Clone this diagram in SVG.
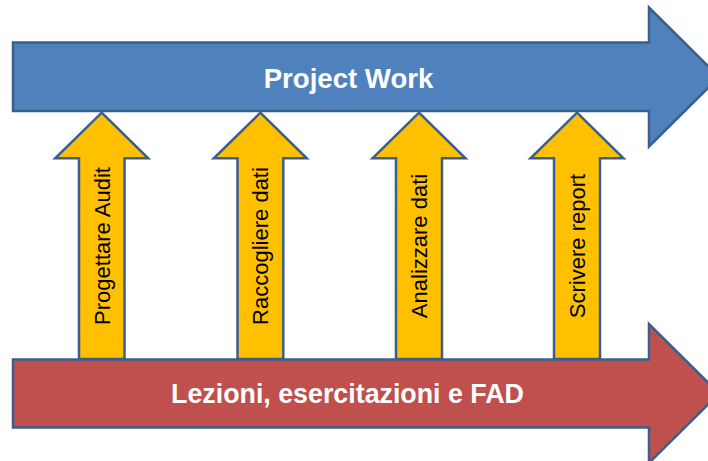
<svg xmlns="http://www.w3.org/2000/svg" width="708" height="461" viewBox="0 0 708 461">
  <style>
    .big { stroke: #3A5F8D; stroke-width: 2.5; stroke-linejoin: miter; }
    .blue { fill: #4F81BD; }
    .red { fill: #C0504D; }
    .step { fill: #FFC000; stroke: #3A5F8D; stroke-width: 2.5; stroke-linejoin: miter; }
    .title { font-family: "Liberation Sans", Arial, sans-serif; font-weight: bold; fill: #FFFFFF; text-anchor: middle; }
    .label { font-family: "Liberation Sans", Arial, sans-serif; font-size: 22px; fill: #000000; text-anchor: middle; }
  </style>
  <rect x="0" y="0" width="708" height="461" fill="#FFFFFF"/>

  <g id="project-work">
    <polygon class="big blue" points="13,42.5 649,42.5 649,7.5 719,77 649,146.5 649,111 13,111"/>
    <text class="title" x="348.5" y="88.3" font-size="27.6">Project Work</text>
  </g>

  <g id="progettare-audit">
    <polygon class="step" points="101.7,112.7 148.2,158.3 124.5,158.3 124.5,359 79,359 79,158.3 55.2,158.3"/>
    <text class="label" transform="translate(109.5,246) rotate(-90)">Progettare Audit</text>
  </g>

  <g id="raccogliere-dati">
    <polygon class="step" points="260.3,112.7 306.8,158.3 283.3,158.3 283.3,359 237.5,359 237.5,158.3 213.8,158.3"/>
    <text class="label" transform="translate(268.3,246) rotate(-90)">Raccogliere dati</text>
  </g>

  <g id="analizzare-dati">
    <polygon class="step" points="419,112.7 465.5,158.3 442,158.3 442,359 396,359 396,158.3 372.5,158.3"/>
    <text class="label" transform="translate(427,246) rotate(-90)">Analizzare dati</text>
  </g>

  <g id="scrivere-report">
    <polygon class="step" points="577,112.7 623.5,158.3 600,158.3 600,359 554,359 554,158.3 530.5,158.3"/>
    <text class="label" transform="translate(585,246) rotate(-90)">Scrivere report</text>
  </g>

  <g id="lezioni">
    <polygon class="big red" points="13,359.5 649,359.5 649,324 719,393.5 649,463 649,427.5 13,427.5"/>
    <text class="title" x="347.5" y="403.3" font-size="26.8">Lezioni, esercitazioni e FAD</text>
  </g>

  <g id="connectors"/>
</svg>
